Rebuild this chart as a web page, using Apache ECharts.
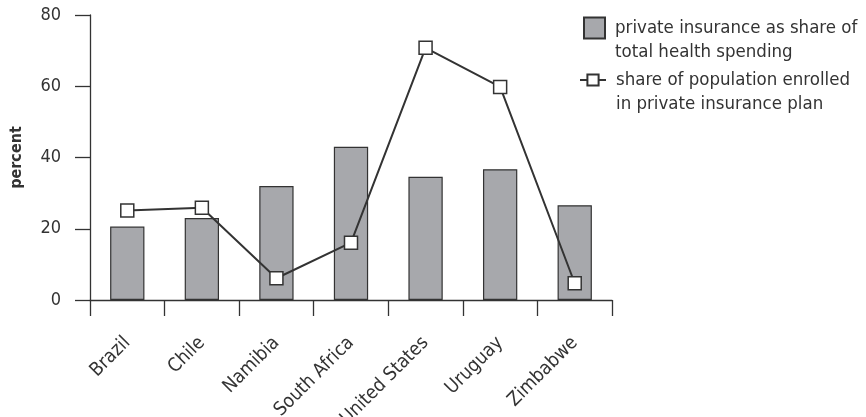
<!DOCTYPE html>
<html>
<head>
<meta charset="utf-8">
<script src="https://cdn.jsdelivr.net/npm/echarts@6/dist/echarts.min.js"></script>
<style>
  html, body { margin: 0; padding: 0; background: #fff; }
  #chart { width: 866px; height: 417px; }
</style>
</head>
<body>
<div id="chart"></div>
<script>
const countries = ['Brazil', 'Chile', 'Namibia', 'South Africa', 'United States', 'Uruguay', 'Zimbabwe'];
// private insurance as share of total health spending (%)
const spendingShare = [20.6, 23, 32, 43, 34.6, 36.7, 26.6];
// share of population enrolled in private insurance plan (%)
const enrolledShare = [25.1, 25.9, 6.1, 16.1, 70.8, 59.8, 4.7];
const yTicks = [0, 20, 40, 60, 80];

const barName = 'private insurance as share of total health spending';
const lineName = 'share of population enrolled in private insurance plan';
// leading blank line keeps the first text line level with the legend icon
const legendLines = {};
legendLines[barName] = '\nprivate insurance as share of\ntotal health spending';
legendLines[lineName] = '\nshare of population enrolled\nin private insurance plan';

const font = "'Liberation Sans Narrow', 'DejaVu Sans Condensed', 'Roboto', sans-serif";
const ink = '#333333';

let chart = echarts.init(document.getElementById('chart'));

const option = {
    animation: false,
    textStyle: { fontFamily: font },
    grid: { left: 90, right: 254, top: 15, bottom: 117, outerBoundsMode: 'none', containLabel: false },
    legend: [{
        data: [barName],
        icon: 'rect',
        left: 583,
        bottom: 348,
        padding: 0,
        itemWidth: 21,
        itemHeight: 21,
        formatter: (n) => legendLines[n],
        textStyle: { fontFamily: font, fontSize: 18.5, color: ink, lineHeight: 24, padding: [10, 0, 0, 5] }
    }, {
        data: [lineName],
        left: 579,
        bottom: 299,
        padding: 0,
        itemWidth: 26,
        itemHeight: 14,
        formatter: (n) => legendLines[n],
        textStyle: { fontFamily: font, fontSize: 18.5, color: ink, lineHeight: 24, padding: [4, 0, 0, 5] }
    }],
    xAxis: {
        type: 'category',
        data: countries,
        axisLine: { lineStyle: { color: ink, width: 1.3 } },
        axisTick: { show: true, length: 16, lineStyle: { color: ink, width: 1.3 } },
        axisLabel: { rotate: 45, margin: 40, fontSize: 19, color: ink, fontFamily: font }
    },
    yAxis: {
        type: 'value',
        min: yTicks[0],
        max: yTicks[yTicks.length - 1],
        interval: 20,
        name: 'percent',
        nameLocation: 'middle',
        nameGap: 65,
        nameTextStyle: { fontSize: 16, fontWeight: 'bold', color: ink, fontFamily: font },
        axisLine: { show: true, lineStyle: { color: ink, width: 1.3 } },
        axisTick: { show: true, length: 15, lineStyle: { color: ink, width: 1.3 } },
        axisLabel: { margin: 29, fontSize: 18, color: ink, fontFamily: font },
        splitLine: { show: false }
    },
    series: [{
        name: barName,
        type: 'bar',
        data: spendingShare,
        barWidth: '46%',
        itemStyle: { color: '#a7a8ac', borderColor: ink, borderWidth: 1.2 }
    }, {
        name: lineName,
        type: 'line',
        data: enrolledShare,
        symbol: 'rect',
        symbolSize: 13,
        lineStyle: { color: ink, width: 2 },
        itemStyle: { color: '#ffffff', borderColor: ink, borderWidth: 1.5 },
        z: 5
    }]
};

chart.setOption(option);
</script>
</body>
</html>
